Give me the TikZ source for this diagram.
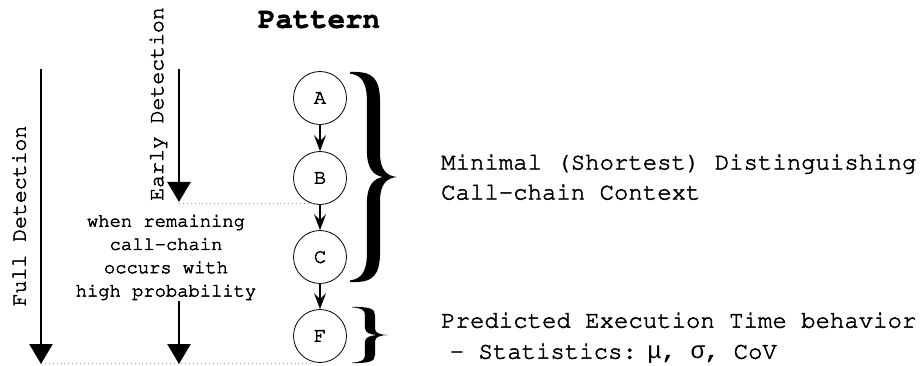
\documentclass[tikz,border=0pt]{standalone}
\usepackage[T1]{fontenc}
\usepackage{fontspec}
\newfontfamily\greekf{Liberation Mono}
\newcommand\cour{\fontencoding{T1}\fontfamily{pcr}\selectfont}
\newcommand\gk[1]{{\special{pdf:literal direct 0 Tr}\greekf #1\special{pdf:literal direct 2 Tr 0.5 w}}}
\usetikzlibrary{arrows.meta,calc}
\begin{document}
\begin{tikzpicture}[x=1pt,y=-1pt,
  every node/.append style={font=\cour,
    execute at begin node={\special{pdf:literal direct 2 Tr 0.5 w}},
    execute at end node={\special{pdf:literal direct 0 Tr}}},
  callnode/.style={circle,draw,line width=0.8pt,minimum size=53pt,inner sep=0pt,font=\cour\fontsize{20.5}{20.5}\selectfont},
  callarrow/.style={line width=2pt,-{Stealth[length=16pt,width=12pt,inset=6pt]}},
  detarrow/.style={line width=2.6pt,-{Triangle[length=20pt,width=23pt]}},
  dotline/.style={gray!70,line width=0.9pt,dash pattern=on 0.9pt off 3pt},
  curlybrace/.pic={
    \fill (0,0) .. controls (0.5,-0.01) and (0.64,0.06) .. (0.64,0.3) -- (0.64,0.78)
      .. controls (0.64,0.93) and (0.78,0.99) .. (1,1)
      .. controls (0.78,1.01) and (0.64,1.07) .. (0.64,1.22) -- (0.64,1.7)
      .. controls (0.64,1.94) and (0.5,2.01) .. (0,2) -- (0,1.985)
      .. controls (0.25,1.97) and (0.36,1.9) .. (0.36,1.72) -- (0.36,1.25)
      .. controls (0.36,1.08) and (0.5,1.015) .. (0.7,1)
      .. controls (0.5,0.985) and (0.36,0.92) .. (0.36,0.75) -- (0.36,0.28)
      .. controls (0.36,0.1) and (0.25,0.03) .. (0,0.015) -- cycle;
  }]
\useasboundingbox (0,0) rectangle (923,366);

% title
\node[font=\cour\bfseries\fontsize{29}{29}\selectfont] (title) at (319,20) {Pattern};

% call-chain nodes
\node[callnode] (A) at (320,98) {A};
\node[callnode] (B) at (320,178) {B};
\node[callnode] (C) at (320,257) {C};
\node[callnode] (F) at (320,336) {F};
\draw[callarrow] (A) -- (B);
\draw[callarrow] (B) -- (C);
\draw[callarrow] (C) -- (F);

% braces
\pic[xscale=47,yscale=105] at (350,72) {curlybrace};
\pic[xscale=36,yscale=28] at (352,307) {curlybrace};

% detection arrows
\coordinate (fullstart) at (41,69);
\coordinate (fullend) at (41,364);
\coordinate (earlystart) at (179,69);
\coordinate (earlyend) at (179,202);
\coordinate (prstart) at (179,301);
\coordinate (prend) at (179,364);
\coordinate (dotB) at (313,203);
\coordinate (dotF) at (313,363);
\draw[dotline] (179,203) -- (dotB);
\draw[dotline] (41,363) -- (dotF);
\draw[detarrow] (fullstart) -- (fullend);
\draw[detarrow] (earlystart) -- (earlyend);
\draw[detarrow] (prstart) -- (prend);

\node[rotate=90,font=\cour\fontsize{21.5}{21.5}\selectfont] (full) at (19,216) {Full Detection};
\node[rotate=90,font=\cour\fontsize{21.5}{21.5}\selectfont] (early) at (158,104) {Early Detection};

\node[align=center,font=\cour\fontsize{18.8}{23.3}\selectfont] (cond) at (166,257)
  {when remaining\\call-chain\\occurs with\\high probability};

\node[align=left,anchor=west,inner sep=0pt,font=\cour\fontsize{24}{30}\selectfont] (ctx) at (441,177)
  {Minimal (Shortest) Distinguishing\\Call-chain Context};
\node[align=left,anchor=west,inner sep=0pt,font=\cour\fontsize{24}{31}\selectfont] (pred) at (441,338)
  {Predicted Execution Time behavior\\\hspace*{8.5pt}- Statistics:\kern-4pt\ \gk{μ}, \gk{σ}, CoV};
\end{tikzpicture}
\end{document}
